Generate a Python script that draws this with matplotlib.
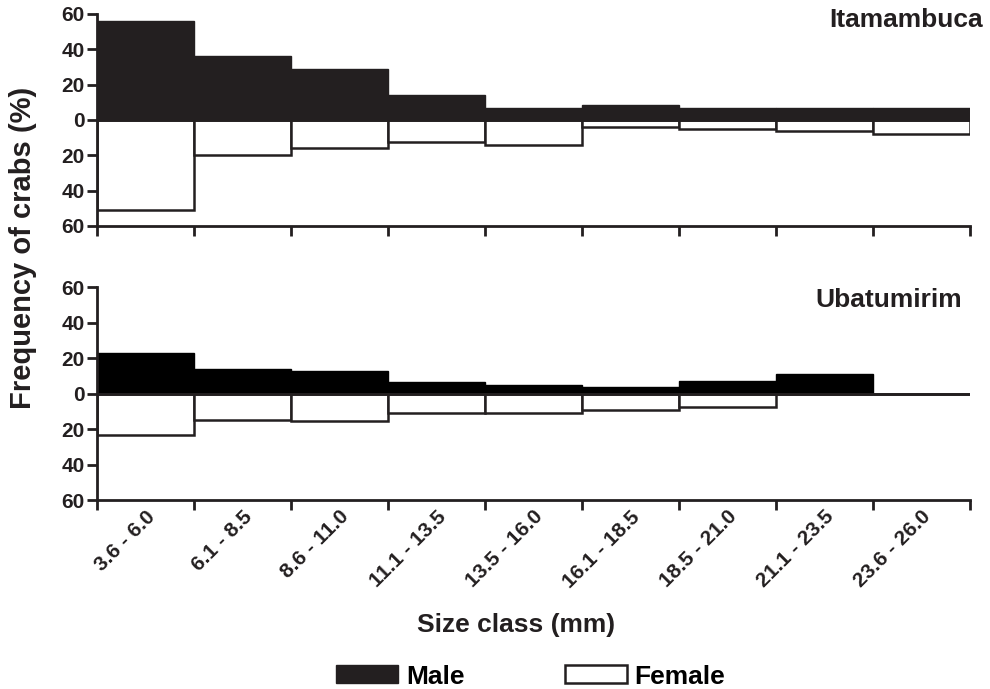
import matplotlib
matplotlib.use("Agg")
from matplotlib import pyplot as plt
from matplotlib.patches import Patch
import matplotlib.transforms as mtrans
import numpy as np

plt.rcParams['font.family'] = ['Liberation Sans', 'DejaVu Sans']
plt.rcParams['font.weight'] = 'bold'

# size classes (mm)
size_classes = ['3.6 - 6.0', '6.1 - 8.5', '8.6 - 11.0', '11.1 - 13.5', '13.5 - 16.0',
                '16.1 - 18.5', '18.5 - 21.0', '21.1 - 23.5', '23.6 - 26.0']

# frequency of crabs (%)
itamambuca_male = [56, 36, 29, 14, 7, 8.5, 7, 7, 7]
itamambuca_female = [51, 20, 16, 12.5, 14, 4, 5, 6.5, 8]
ubatumirim_male = [23, 14, 13, 6.5, 5, 4, 7, 11, 0]
ubatumirim_female = [23, 15, 15.5, 11, 11, 9, 7.5, 0, 0]

fig = plt.figure(figsize=(9.9, 6.89), dpi=100)
ax_top = fig.add_axes([0.098, 0.672, 0.882, 0.308])
ax_bot = fig.add_axes([0.098, 0.274, 0.882, 0.309])

panels = [(ax_top, itamambuca_male, itamambuca_female, '#231f20'),
          (ax_bot, ubatumirim_male, ubatumirim_female, 'black')]

x = np.arange(len(size_classes))
for ax, male, female, mcol in panels:
    ax.bar(x, male, width=1, align='edge', color=mcol, edgecolor=mcol, linewidth=1)
    ax.bar(x, -np.array(female), width=1, align='edge', color='white',
           edgecolor='#231f20', linewidth=1.8)
    ax.axhline(0, color='#231f20', linewidth=2, zorder=3)
    ax.set_xlim(0, len(size_classes))
    ax.set_ylim(-60, 60)
    ax.set_yticks([-60, -40, -20, 0, 20, 40, 60])
    ax.set_yticklabels(['60', '40', '20', '0', '20', '40', '60'])
    ax.set_xticks(np.arange(len(size_classes) + 1))
    ax.set_xticklabels([])
    for s in ['top', 'right']:
        ax.spines[s].set_visible(False)
    for s in ['left', 'bottom']:
        ax.spines[s].set_linewidth(2)
        ax.spines[s].set_color('#231f20')
    ax.tick_params(axis='both', direction='out', length=7, width=2,
                   color='#231f20', labelsize=15, labelcolor='#231f20', pad=2)

# class labels under the lower panel
ax_bot.set_xticks(x + 0.5, minor=True)
ax_bot.set_xticklabels(size_classes, minor=True, rotation=45, ha='right',
                       fontsize=15, fontweight='bold', color='#231f20')
ax_bot.tick_params(axis='x', which='minor', length=0, pad=5)
offset = mtrans.ScaledTranslation(13 / 100, 0, fig.dpi_scale_trans)
for lab in ax_bot.get_xticklabels(minor=True):
    lab.set_transform(lab.get_transform() + offset)

fig.text(0.993, 0.971, 'Itamambuca', ha='right', va='center', fontsize=19,
         fontweight='bold', color='#231f20')
fig.text(0.972, 0.565, 'Ubatumirim', ha='right', va='center', fontsize=19,
         fontweight='bold', color='#231f20')

fig.text(0.023, 0.64, 'Frequency of crabs (%)', rotation=90, ha='center',
         va='center', fontsize=21, fontweight='bold', color='#231f20')
fig.text(0.521, 0.093, 'Size class (mm)', ha='center', va='center',
         fontsize=19, fontweight='bold', color='#231f20')

handles = [Patch(facecolor='#231f20', edgecolor='#231f20', label='Male'),
           Patch(facecolor='white', edgecolor='#231f20', linewidth=1.8, label='Female')]
fig.legend(handles=handles, loc='center', bbox_to_anchor=(0.536, 0.018), ncol=2,
           frameon=False, fontsize=19, handlelength=2.35, handleheight=0.68,
           handletextpad=0.3, columnspacing=3.8, borderpad=0, borderaxespad=0)

plt.savefig("out.png", dpi=100)
